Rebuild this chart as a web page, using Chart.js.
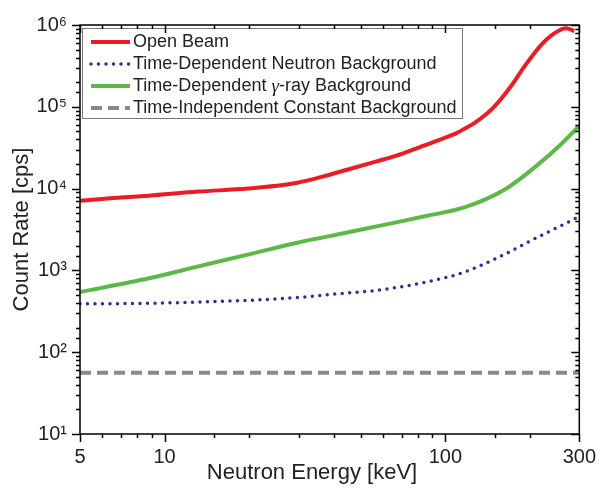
<!DOCTYPE html>
<html>
<head>
<meta charset="utf-8">
<script src="https://cdn.jsdelivr.net/npm/chart.js@4/dist/chart.umd.min.js"></script>
<style>
  body { margin: 0; background: #fff; }
  #wrap { width: 607px; height: 494px; position: relative; }
</style>
</head>
<body>
<div id="wrap"><canvas id="mycanvas"></canvas></div>
<script>
// values (energy in keV, rate in cps)
var seriesNames = [
    'Open Beam',
    'Time-Dependent Neutron Background',
    'Time-Dependent γ-ray Background',
    'Time-Independent Constant Background'
];

var openEnergy = [5, 6.4, 8.8, 13.2, 19.8, 29.7, 36.5, 44.7, 56.9, 66.5, 78.7, 92.6, 109, 117.5, 128, 142, 151, 160, 172, 192, 220, 245, 269, 288];
var openRate = [7100, 7600, 8200, 9200, 10000, 11800, 14000, 17000, 21500, 25100, 30900, 38000, 47300, 54300, 64600, 85000, 105000, 132000, 182000, 316000, 575000, 795000, 912000, 845000];

var neutronEnergy = [5, 8.8, 13.2, 19.8, 29.7, 44.7, 56.9, 85.3, 117.5, 164, 208, 259, 300];
var neutronRate = [390, 396, 410, 430, 466, 530, 570, 720, 960, 1600, 2440, 3540, 4560];

var gammaEnergy = [5, 8.8, 13.2, 19.8, 29.7, 44.7, 56.9, 85.3, 117.5, 164, 208, 259, 300];
var gammaRate = [543, 800, 1120, 1560, 2180, 2900, 3450, 4620, 5920, 9900, 18200, 35100, 58600];

var constEnergy = [5, 300];
var constRate = [56, 56];

var xTickValues = [5, 10, 100, 300];
var xTickLabels = ['5', '10', '100', '300'];
var yTickValues = [10, 100, 1000, 10000, 100000, 1000000];
var yTickLabels = ['10¹', '10²', '10³', '10⁴', '10⁵', '10⁶'];

function toPoints(xs, ys) {
    var pts = [];
    for (var i in xs) {
        pts.push({x: xs[i], y: ys[i]});
    }
    return pts;
}

// box frame + tick marks (out on left/bottom, in on top/right)
var frameTicks = {
    id: 'frameTicks',
    afterDraw: function(chart) {
        var ctx = chart.ctx;
        var a = chart.chartArea;
        var x = chart.scales.x, y = chart.scales.y;
        ctx.save();
        ctx.strokeStyle = '#000';
        ctx.lineWidth = 1.5;
        ctx.beginPath();
        x.ticks.forEach(function(t) {
            var px = Math.round(x.getPixelForValue(t.value)) + 0.5;
            var len = xTickValues.indexOf(t.value) >= 0 ? 8 : 4;
            ctx.moveTo(px, a.bottom); ctx.lineTo(px, a.bottom + len);
            ctx.moveTo(px, a.top); ctx.lineTo(px, a.top + len);
        });
        y.ticks.forEach(function(t) {
            var py = Math.round(y.getPixelForValue(t.value)) + 0.5;
            var len = yTickValues.indexOf(t.value) >= 0 ? 8 : 4;
            ctx.moveTo(a.left - len, py); ctx.lineTo(a.left, py);
            ctx.moveTo(a.right - len, py); ctx.lineTo(a.right, py);
        });
        ctx.stroke();
        ctx.strokeRect(a.left, a.top, a.right - a.left, a.bottom - a.top);

        // x axis title
        ctx.fillStyle = '#222';
        ctx.font = '22px "Liberation Sans", Arial, sans-serif';
        ctx.textAlign = 'center';
        ctx.textBaseline = 'alphabetic';
        ctx.fillText('Neutron Energy [keV]', 312, 479);
        ctx.restore();
    }
};

// legend box in the upper left corner of the plot
var legendBox = {
    id: 'legendBox',
    afterDatasetsDraw: function(chart) {
        var ctx = chart.ctx;
        var a = chart.chartArea;
        var bx = a.left + 2, by = a.top + 3, bw = 380, bh = 90;
        ctx.save();
        ctx.fillStyle = '#fff';
        ctx.fillRect(bx, by, bw, bh);
        ctx.strokeStyle = '#777';
        ctx.lineWidth = 1;
        ctx.strokeRect(bx + 0.5, by + 0.5, bw, bh);
        chart.data.datasets.forEach(function(ds, i) {
            var cy = by + 14 + i * 22;
            ctx.strokeStyle = ds.borderColor;
            ctx.lineWidth = ds.borderWidth;
            ctx.setLineDash(ds.borderDash || []);
            ctx.lineCap = ds.borderCapStyle || 'butt';
            ctx.beginPath();
            ctx.moveTo(bx + 9, cy);
            ctx.lineTo(bx + 48, cy);
            ctx.stroke();
            ctx.setLineDash([]);

            ctx.fillStyle = '#222';
            ctx.textBaseline = 'middle';
            ctx.textAlign = 'left';
            var tx = bx + 51;
            var parts = ds.label.split('γ');
            for (var k = 0; k < parts.length; k++) {
                if (k > 0) {
                    ctx.font = 'italic 19px "Liberation Serif", serif';
                    ctx.fillText('γ', tx, cy + 1);
                    tx += ctx.measureText('γ').width;
                }
                ctx.font = '18px "Liberation Sans", Arial, sans-serif';
                ctx.fillText(parts[k], tx, cy);
                tx += ctx.measureText(parts[k]).width;
            }
        });
        ctx.restore();
    }
};

var ctx = document.getElementById('mycanvas');

var chartdata = {
    datasets: [{
        label: seriesNames[0],
        data: toPoints(openEnergy, openRate),
        borderColor: '#ec1c24',
        borderWidth: 4,
        cubicInterpolationMode: 'monotone'
    }, {
        label: seriesNames[1],
        data: toPoints(neutronEnergy, neutronRate),
        borderColor: '#2e3192',
        borderWidth: 3.5,
        borderDash: [0, 7.5],
        borderCapStyle: 'round',
        cubicInterpolationMode: 'monotone'
    }, {
        label: seriesNames[2],
        data: toPoints(gammaEnergy, gammaRate),
        borderColor: '#5cb947',
        borderWidth: 4,
        cubicInterpolationMode: 'monotone'
    }, {
        label: seriesNames[3],
        data: toPoints(constEnergy, constRate),
        borderColor: '#8a8a8a',
        borderWidth: 4,
        borderDash: [11, 6]
    }]
};

var lineGraph = new Chart(ctx, {
    type: 'line',
    data: chartdata,
    options: {
        responsive: true,
        maintainAspectRatio: false,
        animation: false,
        layout: { padding: { top: 24, right: 22, left: 0, bottom: 0 } },
        elements: { point: { radius: 0 } },
        plugins: {
            legend: { display: false },
            tooltip: { enabled: false }
        },
        scales: {
            x: {
                type: 'logarithmic',
                min: 5,
                max: 300,
                grid: { display: false, drawTicks: false },
                border: { display: false },
                ticks: {
                    autoSkip: false,
                    maxRotation: 0,
                    padding: 11,
                    color: '#222',
                    font: { family: '"Liberation Sans", Arial, sans-serif', size: 20 },
                    callback: function(v) {
                        var i = xTickValues.indexOf(v);
                        return i >= 0 ? xTickLabels[i] : '';
                    }
                },
                afterFit: function(scale) { scale.height = 60; }
            },
            y: {
                type: 'logarithmic',
                min: 10,
                max: 1000000,
                grid: { display: false, drawTicks: false },
                border: { display: false },
                ticks: {
                    autoSkip: false,
                    padding: 13,
                    color: '#222',
                    font: { family: '"Liberation Sans", Arial, sans-serif', size: 20 },
                    callback: function(v) {
                        var i = yTickValues.indexOf(v);
                        return i >= 0 ? yTickLabels[i] : '';
                    }
                },
                title: {
                    display: true,
                    text: 'Count Rate [cps]',
                    color: '#222',
                    padding: { top: 9, bottom: 0 },
                    font: { family: '"Liberation Sans", Arial, sans-serif', size: 22 }
                },
                afterFit: function(scale) { scale.width = 80; }
            }
        }
    },
    plugins: [legendBox, frameTicks]
});
</script>
</body>
</html>
